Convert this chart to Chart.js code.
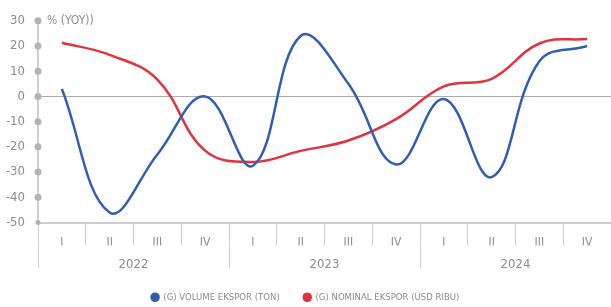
<!DOCTYPE html>
<html>
<head>
<meta charset="utf-8">
<script src="https://cdn.jsdelivr.net/npm/chart.js@4"></script>
<style>
html, body { margin: 0; padding: 0; background: #fff; }
#wrap { width: 611px; height: 307px; }
</style>
</head>
<body>
<div id="wrap"><canvas id="myChart"></canvas></div>
<script>
var quarters = ['I', 'II', 'III', 'IV', 'I', 'II', 'III', 'IV', 'I', 'II', 'III', 'IV'];
var years = ['2022', '2023', '2024'];
var volumeEkspor = [3, -46, -23, 0, -27.5, 24, 5, -27, -1, -32, 14, 20];
var nominalEkspor = [21.3, 16.5, 6.7, -21.5, -26, -21.6, -17.5, -9, 4, 7, 21, 22.8];
var yMin = -50, yMax = 30, yStep = 10;
var unitLabel = '% (YOY))';

var FONT = "'Liberation Sans Narrow', 'DejaVu Sans Condensed', sans-serif";
var GREY = '#8c8c8c';
var LINE = '#cfcfcf';

// dots on the y axis and the unit label at the top
var axisDots = {
    id: 'axisDots',
    afterDraw: function (chart) {
        var ctx = chart.ctx;
        var y = chart.scales.y;
        var x0 = chart.chartArea.left;
        ctx.save();
        ctx.fillStyle = '#b3b3b3';
        y.ticks.forEach(function (t) {
            var py = y.getPixelForValue(t.value);
            ctx.beginPath();
            ctx.arc(x0, py, t.value === yMin ? 2.5 : 3.5, 0, Math.PI * 2);
            ctx.fill();
        });
        ctx.fillStyle = GREY;
        ctx.font = '12px ' + FONT;
        ctx.textBaseline = 'middle';
        ctx.textAlign = 'left';
        ctx.fillText(unitLabel, x0 + 9, y.getPixelForValue(yMax));
        ctx.restore();
    }
};

var ctx = document.getElementById('myChart');

var myChart = new Chart(ctx, {
    type: 'line',
    data: {
        labels: quarters,
        datasets: [{
            label: '(G) VOLUME EKSPOR (TON)',
            data: volumeEkspor,
            borderColor: '#2f5fae',
            backgroundColor: '#2f5fae',
            borderWidth: 2.5,
            tension: 0.4,
            pointRadius: 0,
            xAxisID: 'x'
        }, {
            label: '(G) NOMINAL EKSPOR (USD RIBU)',
            data: nominalEkspor,
            borderColor: '#e3323f',
            backgroundColor: '#e3323f',
            borderWidth: 2.5,
            tension: 0.4,
            pointRadius: 0,
            xAxisID: 'x'
        }]
    },
    options: {
        responsive: true,
        maintainAspectRatio: false,
        animation: false,
        layout: { padding: { top: 19, right: 0, left: 0, bottom: -5 } },
        plugins: {
            tooltip: { enabled: false },
            legend: {
                position: 'bottom',
                labels: {
                    usePointStyle: true,
                    pointStyle: 'circle',
                    boxWidth: 7,
                    boxHeight: 5,
                    padding: 24,
                    color: GREY,
                    font: { family: FONT, size: 9.5 }
                }
            }
        },
        scales: {
            x: {
                type: 'category',
                position: 'bottom',
                offset: true,
                grid: { offset: true, drawOnChartArea: false, color: LINE, tickLength: 23 },
                border: { display: true, color: LINE, width: 2 },
                ticks: { color: GREY, padding: -10, font: { family: FONT, size: 12 } },
                afterFit: function (s) { s.height = 23; }
            },
            x2: {
                type: 'category',
                position: 'bottom',
                labels: years,
                offset: true,
                grid: { offset: true, drawOnChartArea: false, color: LINE, tickLength: 23 },
                border: { display: false },
                ticks: { color: GREY, padding: -12, font: { family: FONT, size: 13 } },
                afterFit: function (s) { s.height = 23; }
            },
            y: {
                min: yMin,
                max: yMax,
                ticks: { stepSize: yStep, color: GREY, padding: 13, font: { family: FONT, size: 13 } },
                grid: {
                    drawTicks: false,
                    color: function (c) { return c.tick && c.tick.value === 0 ? '#ababab' : 'rgba(0,0,0,0)'; },
                    lineWidth: 1
                },
                border: { display: true, color: LINE, width: 2 },
                afterFit: function (s) { s.width = 38; }
            }
        }
    },
    plugins: [axisDots]
});
</script>
</body>
</html>
